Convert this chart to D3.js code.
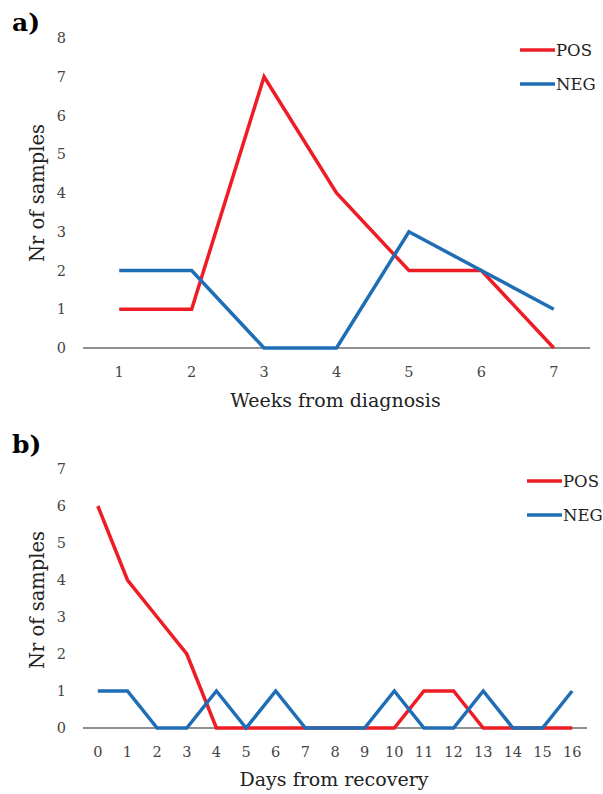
<!doctype html>
<html lang="en">
<head>
<meta charset="UTF-8">
<title>Samples</title>
<script src="https://cdn.jsdelivr.net/npm/d3@7"></script>
<style>
  body { margin: 0; background: #fff; }
  text { font-family: "DejaVu Serif", serif; fill: #222; }
</style>
</head>
<body>
<div id="chart"></div>
<script>
// panel a
const weeks = [1, 2, 3, 4, 5, 6, 7]
const posWeeks = [1, 1, 7, 4, 2, 2, 0]
const negWeeks = [2, 2, 0, 0, 3, 2, 1]
const yTicksA = [0, 1, 2, 3, 4, 5, 6, 7, 8]

// panel b
const days = [0, 1, 2, 3, 4, 5, 6, 7, 8, 9, 10, 11, 12, 13, 14, 15, 16]
const posDays = [6, 4, 3, 2, 0, 0, 0, 0, 0, 0, 0, 1, 1, 0, 0, 0, 0]
const negDays = [1, 1, 0, 0, 1, 0, 1, 0, 0, 0, 1, 0, 0, 1, 0, 0, 1]
const yTicksB = [0, 1, 2, 3, 4, 5, 6, 7]

const seriesNames = ['POS', 'NEG']
const colors = {POS: '#ee1c25', NEG: '#1f6eb5'}

const svg = d3.select('#chart').append('svg')
    .attr('width', 603).attr('height', 794)

function drawPanel(opt) {
    const g = svg.append('g')
    const x = d3.scalePoint().domain(opt.cats).range([opt.x0, opt.x1]).padding(0.5)
    const y = d3.scaleLinear().domain([0, opt.yMax]).range([opt.y0, opt.y1])

    // x axis line
    g.append('line')
        .attr('x1', opt.x0).attr('x2', opt.x1)
        .attr('y1', y(0)).attr('y2', y(0))
        .attr('stroke', '#222').attr('stroke-width', 1.2)

    g.selectAll('.ytick').data(opt.yTicks).enter().append('text')
        .attr('x', 66).attr('y', d => y(d)).attr('dy', '0.35em')
        .attr('text-anchor', 'end').style('font-size', '14.5px').style('fill', '#444')
        .text(d => d)

    g.selectAll('.xtick').data(opt.cats).enter().append('text')
        .attr('x', d => x(d)).attr('y', y(0) + 29)
        .attr('text-anchor', 'middle').style('font-size', '14.5px').style('fill', '#444')
        .text(d => d)

    g.append('text')
        .attr('x', (opt.x0 + opt.x1) / 2 - 1).attr('y', opt.xTitleY)
        .attr('text-anchor', 'middle').style('font-size', '19px')
        .text(opt.xTitle)

    g.append('text')
        .attr('transform', 'translate(44,' + opt.yTitleY + ') rotate(-90)')
        .attr('text-anchor', 'middle').style('font-size', '19.5px')
        .text('Nr of samples')

    g.append('text')
        .attr('x', 12).attr('y', opt.labelY)
        .style('font-size', '25px').style('font-weight', 'bold').style('fill', '#000')
        .text(opt.label)

    const line = d3.line().x((d, i) => x(opt.cats[i])).y(d => y(d))
    const vals = {POS: opt.pos, NEG: opt.neg}
    seriesNames.forEach(s => {
        g.append('path').datum(vals[s])
            .attr('d', line)
            .attr('fill', 'none')
            .attr('stroke', colors[s])
            .attr('stroke-width', 3.5)
            .attr('stroke-linejoin', 'miter')
    })

    // legend
    seriesNames.forEach((s, i) => {
        const ly = opt.legY + i * 34
        g.append('line')
            .attr('x1', opt.legX).attr('x2', opt.legX + 35)
            .attr('y1', ly).attr('y2', ly)
            .attr('stroke', colors[s]).attr('stroke-width', 3.5)
        g.append('text')
            .attr('x', opt.legX + 36).attr('y', ly).attr('dy', '0.36em')
            .style('font-size', '16.5px')
            .text(s)
    })
}

drawPanel({
    cats: weeks, pos: posWeeks, neg: negWeeks, yTicks: yTicksA, yMax: 8,
    x0: 83, x1: 590, y0: 348, y1: 38,
    xTitle: 'Weeks from diagnosis', xTitleY: 407, yTitleY: 193,
    label: 'a)', labelY: 31, legX: 520, legY: 50
})

drawPanel({
    cats: days, pos: posDays, neg: negDays, yTicks: yTicksB, yMax: 7,
    x0: 83, x1: 587, y0: 728, y1: 469,
    xTitle: 'Days from recovery', xTitleY: 786, yTitleY: 600,
    label: 'b)', labelY: 453, legX: 527, legY: 481
})
</script>
</body>
</html>
